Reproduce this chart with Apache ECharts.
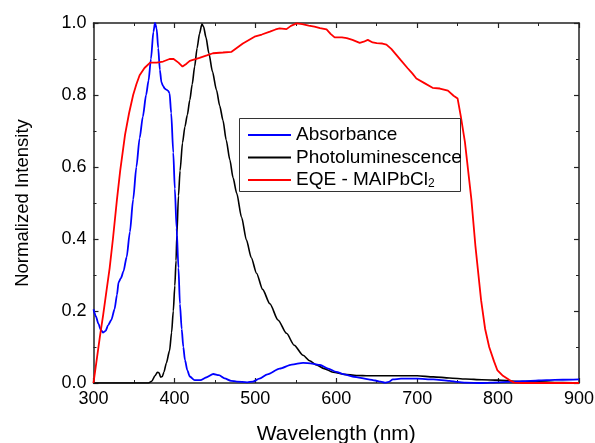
<!DOCTYPE html>
<html>
<head>
<meta charset="utf-8">
<script src="https://cdn.jsdelivr.net/npm/echarts@6/dist/echarts.min.js"></script>
<style>html,body{margin:0;padding:0;background:#fff}#c{width:595px;height:443px}</style>
</head>
<body>
<div id="c"></div>
<script>
var xTicks = [300, 400, 500, 600, 700, 800, 900];
var yTicks = [0.0, 0.2, 0.4, 0.6, 0.8, 1.0];

var absWl = [300,303,306,309,312,315,318,322,326,329,331,334,337,341,345,349,353,357,361,365,368,371,374,376,378,380,382,384,386,388,390,392,394,396,398.6,400.5,402.7,405,406.8,409,411,413,416,419,425,432,440,448,455,462,470,477,490,497,505,515,530,545,559,570,580,590,600,610,620,630,640,648,655,660,665,670,680,700,720,740,750,760,780,800,820,840,860,880,900];
var absVal = [0.205,0.185,0.165,0.148,0.140,0.145,0.160,0.175,0.205,0.245,0.280,0.292,0.310,0.350,0.420,0.510,0.600,0.680,0.740,0.800,0.840,0.900,0.975,1.0,0.985,0.93,0.87,0.835,0.825,0.818,0.815,0.812,0.805,0.75,0.64,0.54,0.43,0.32,0.22,0.15,0.10,0.064,0.035,0.018,0.008,0.008,0.016,0.025,0.022,0.013,0.006,0.004,0.002,0.004,0.012,0.024,0.040,0.051,0.056,0.054,0.050,0.040,0.031,0.024,0.018,0.014,0.010,0.007,0.004,0.001,0.003,0.010,0.012,0.012,0.010,0.006,0.003,0.001,0.000,0.002,0.004,0.006,0.008,0.009,0.010];

var plWl = [300,368,372,376,379,381,383,385,387,390,394,396.5,398.6,400.5,402,403,405,407,410,413,416,419,422,425,428,431,434,436,439,442.6,447,452,456,460,464,468.5,472.5,477,483,489,495,501.5,509,518,528,538.5,548,559,567,575.6,585,596,610,625,640,660,680,700,720,740,760,780,800,820,850,880,900];
var plVal = [0.0,0.0,0.005,0.02,0.03,0.028,0.016,0.018,0.03,0.055,0.09,0.14,0.20,0.27,0.34,0.41,0.52,0.59,0.667,0.712,0.745,0.786,0.83,0.879,0.93,0.97,0.997,0.99,0.96,0.916,0.865,0.814,0.77,0.73,0.675,0.62,0.57,0.527,0.46,0.397,0.348,0.305,0.26,0.22,0.175,0.138,0.105,0.077,0.062,0.05,0.04,0.03,0.024,0.021,0.020,0.020,0.020,0.020,0.017,0.014,0.011,0.009,0.008,0.005,0.003,0.001,0.0];

var eqeWl = [300,308,312,316,320,324,329,333,339,344,349,353,357,363,370,378,386,394,399,405,410,415,419,431,440,447.6,460,470.6,484.6,499,508,518,525,530,538.5,544,551,558,566,573,580,588,593,598,607,613,620,629,634,639,645,650,657,662,668,674,680,688,694,699,709,719,728,738,745,750,754,759,763,767,772,779,784,789,795,799,806,814,820,830,900];
var eqeVal = [0.0,0.13,0.19,0.255,0.32,0.40,0.51,0.59,0.69,0.75,0.80,0.83,0.855,0.875,0.89,0.89,0.893,0.90,0.90,0.89,0.879,0.887,0.895,0.903,0.91,0.916,0.918,0.92,0.943,0.962,0.968,0.976,0.982,0.985,0.983,0.992,0.999,0.997,0.993,0.99,0.986,0.982,0.97,0.96,0.96,0.958,0.953,0.945,0.948,0.953,0.946,0.944,0.943,0.94,0.928,0.912,0.896,0.875,0.86,0.846,0.833,0.82,0.818,0.812,0.798,0.79,0.74,0.67,0.59,0.51,0.38,0.23,0.15,0.10,0.06,0.036,0.02,0.008,0.001,0.0,0.0];

var seriesNames = ['Absorbance', 'Photoluminescence', 'EQE - MAIPbCl2'];

function pairs(xs, ys) { return xs.map(function (x, i) { return [x, ys[i]]; }); }

var FONT = "'Liberation Sans', Arial, sans-serif";
var AX = '#222';

function xAx(pos, labels) {
  return {
    type: 'value', position: pos, min: xTicks[0], max: xTicks[xTicks.length - 1],
    interval: xTicks[1] - xTicks[0],
    axisLine: { show: true, onZero: false, lineStyle: { color: AX, width: 1.5 } },
    axisTick: { show: true, inside: true, length: 5, lineStyle: { color: AX, width: 1.2 } },
    minorTick: { show: true, splitNumber: 2, length: 3, lineStyle: { color: AX, width: 1 } },
    splitLine: { show: false },
    axisLabel: { show: labels, fontSize: 18, color: '#000', fontFamily: FONT, margin: 7 },
    name: labels ? 'Wavelength (nm)' : '', nameLocation: 'middle', nameGap: 41,
    nameTextStyle: { fontSize: 21, color: '#000', fontFamily: FONT }
  };
}
function yAx(pos, labels) {
  return {
    type: 'value', position: pos, min: yTicks[0], max: yTicks[yTicks.length - 1],
    interval: yTicks[1] - yTicks[0],
    axisLine: { show: true, onZero: false, lineStyle: { color: AX, width: 1.5 } },
    axisTick: { show: true, inside: true, length: 5, lineStyle: { color: AX, width: 1.2 } },
    minorTick: { show: true, splitNumber: 2, length: 3, lineStyle: { color: AX, width: 1 } },
    splitLine: { show: false },
    axisLabel: { show: labels, fontSize: 18, color: '#000', fontFamily: FONT, margin: 7,
      formatter: function (v) { return v.toFixed(1); } },
    name: labels ? 'Normalized Intensity' : '', nameLocation: 'middle', nameGap: 61,
    nameTextStyle: { fontSize: 18.5, color: '#000', fontFamily: FONT }
  };
}

var chart = echarts.init(document.getElementById('c'), null, { renderer: 'canvas' });
chart.setOption({
  animation: false,
  backgroundColor: '#fff',
  grid: { left: 93.5, right: 16, top: 23, bottom: 60, containLabel: false, outerBoundsMode: 'none' },
  xAxis: [xAx('bottom', true), xAx('top', false)],
  yAxis: [yAx('left', true), yAx('right', false)],
  graphic: [{
    type: 'rect', left: 239, top: 118, z: 50,
    shape: { width: 221, height: 73 },
    style: { fill: '#fff', stroke: '#333', lineWidth: 1 }
  }],
  legend: {
    orient: 'vertical', left: 248, top: 124, z: 60,
    icon: 'rect', itemWidth: 43, itemHeight: 2, itemGap: 0.5, padding: 0,
    data: seriesNames,
    textStyle: {
      fontSize: 19, color: '#000', fontFamily: FONT, lineHeight: 22,
      rich: { sub: { fontSize: 12, fontFamily: FONT, color: '#000', lineHeight: 22, padding: [8, 0, 0, 0] } }
    },
    formatter: function (n) { return n === 'EQE - MAIPbCl2' ? 'EQE - MAIPbCl{sub|2}' : n; }
  },
  series: [
    { name: seriesNames[0], type: 'line', data: pairs(absWl, absVal), showSymbol: false, symbol: 'none',
      smooth: 0.25, smoothMonotone: 'x', lineStyle: { color: '#0000ff', width: 1.8 }, itemStyle: { color: '#0000ff' }, z: 3 },
    { name: seriesNames[1], type: 'line', data: pairs(plWl, plVal), showSymbol: false, symbol: 'none',
      smooth: 0.25, smoothMonotone: 'x', lineStyle: { color: '#000000', width: 1.6 }, itemStyle: { color: '#000000' }, z: 2 },
    { name: seriesNames[2], type: 'line', data: pairs(eqeWl, eqeVal), showSymbol: false, symbol: 'none',
      lineStyle: { color: '#ff0000', width: 1.8 }, itemStyle: { color: '#ff0000' }, z: 4 }
  ]
});
</script>
</body>
</html>
